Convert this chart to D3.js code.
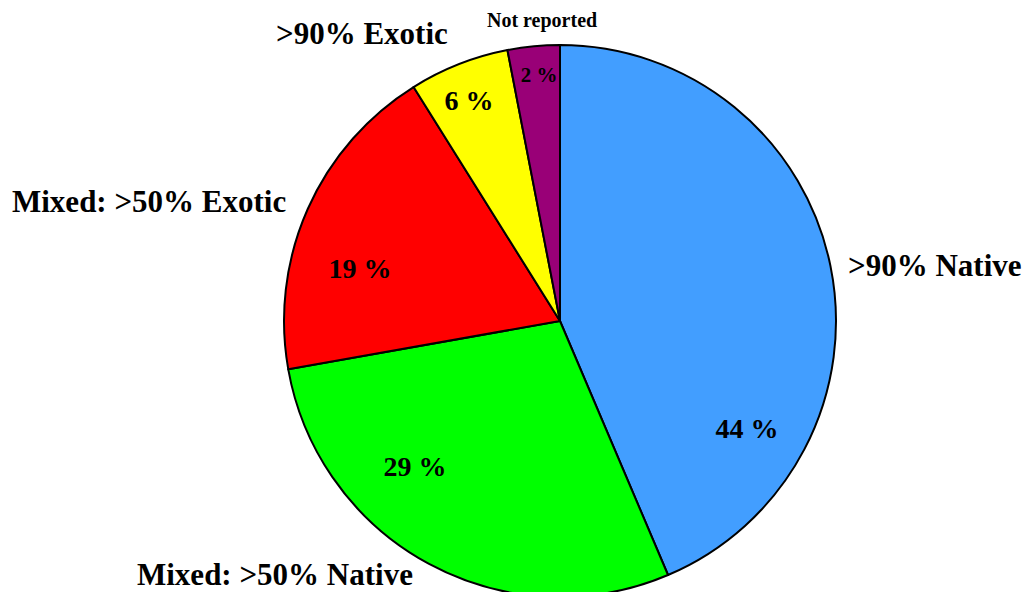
<!DOCTYPE html>
<html><head><meta charset="utf-8">
<script src="https://cdn.jsdelivr.net/npm/d3@7"></script>
<style>body{margin:0;background:#fff}svg{display:block}</style>
</head><body>
<script>
// Data
const categories = [">90% Native", "Mixed: >50% Native", "Mixed: >50% Exotic", ">90% Exotic", "Not reported"];
const values = [43.6, 28.6, 18.9, 5.85, 3.05];
const pctLabels = ["44 %", "29 %", "19 %", "6 %", "2 %"];
const colors = ["#429EFF", "#00FF00", "#FF0000", "#FFFF00", "#990077"];

// Layout (annotation positions)
const catPos = [[848, 276, 31], [137, 585, 31], [12, 212, 31], [276, 44, 31], [487, 27, 20]];
const pctPos = [[747, 438, 28], [415, 476, 28], [360, 278, 28], [469, 110, 28], [539, 82, 21]];

const W = 1026, H = 592, cx = 560, cy = 321, R = 276;
const svg = d3.select("body").append("svg").attr("width", W).attr("height", H);
const pie = d3.pie().sort(null).value(d => d)(values);
const arc = d3.arc().innerRadius(0).outerRadius(R);
const g = svg.append("g").attr("transform", `translate(${cx},${cy})`);
g.selectAll("path").data(pie).join("path")
  .attr("d", arc).attr("fill", (d, i) => colors[i])
  .attr("stroke", "#000").attr("stroke-width", 2).attr("stroke-linejoin", "round");

const font = "'Liberation Serif','Times New Roman',serif";
svg.selectAll("text.cat").data(categories).join("text").attr("class", "cat")
  .attr("x", (d, i) => catPos[i][0]).attr("y", (d, i) => catPos[i][1])
  .attr("font-size", (d, i) => catPos[i][2]).attr("font-family", font).attr("font-weight", "bold")
  .attr("fill", "#000").text(d => d);
svg.selectAll("text.pct").data(pctLabels).join("text").attr("class", "pct")
  .attr("x", (d, i) => pctPos[i][0]).attr("y", (d, i) => pctPos[i][1])
  .attr("text-anchor", "middle")
  .attr("font-size", (d, i) => pctPos[i][2]).attr("font-family", font).attr("font-weight", "bold")
  .attr("fill", "#000").text(d => d);
</script>
</body></html>
